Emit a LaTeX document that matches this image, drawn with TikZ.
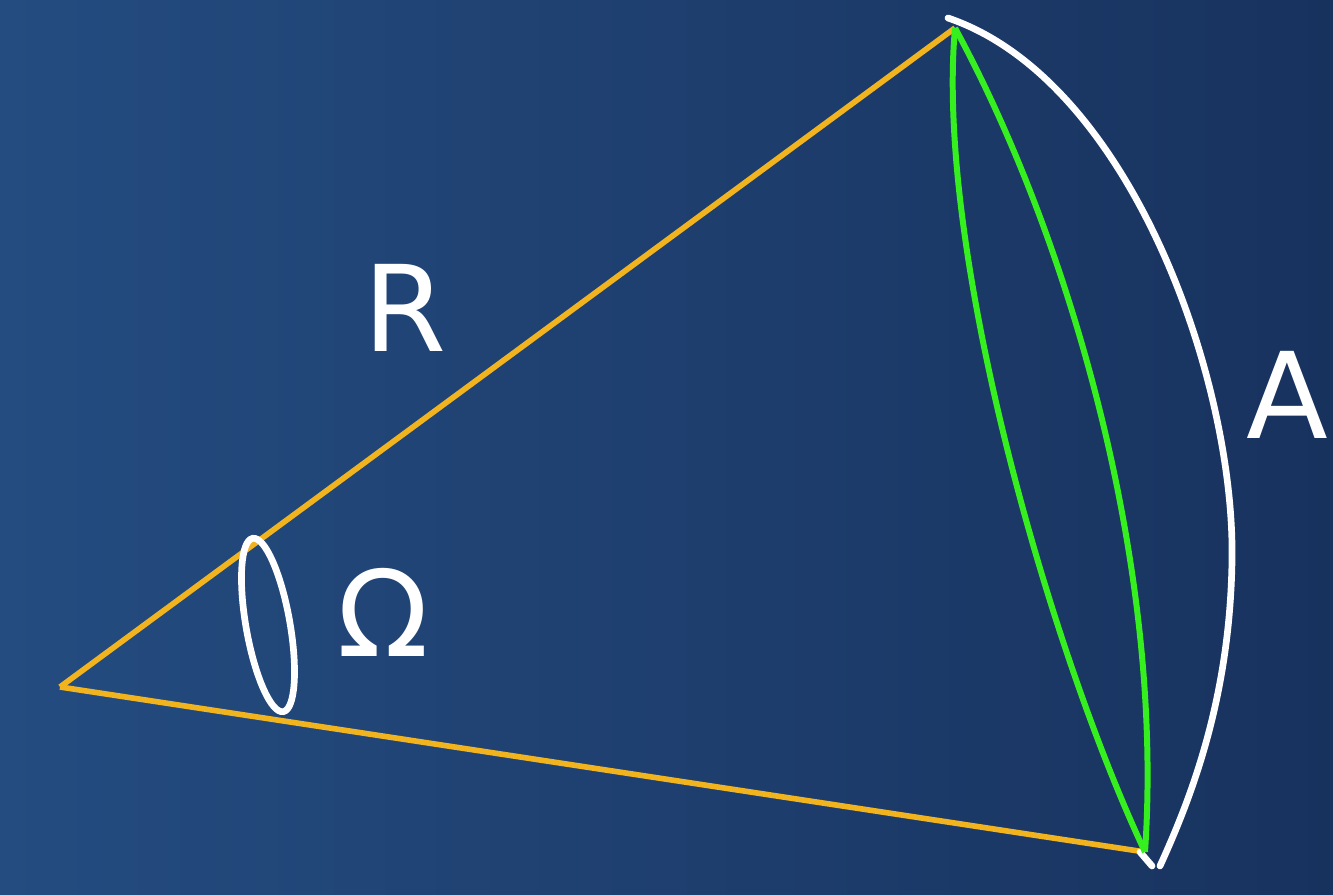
\documentclass[tikz,border=0pt]{standalone}
\usepackage{fontspec}
\setmainfont{DejaVu Sans}
\usetikzlibrary{positioning,calc,backgrounds}
\definecolor{lightBlue}{HTML}{244C80}
\definecolor{darkBlue}{HTML}{18325E}
\definecolor{coneEdge}{HTML}{F2B41E}
\definecolor{lensLine}{HTML}{35F01E}
\definecolor{chalk}{HTML}{FFFFFF}

\begin{document}
\begin{tikzpicture}[
  x=0.01cm, y=-0.01cm,
  radius/.style={line width=1.6pt, draw=coneEdge},
  capArc/.style={line width=1.9pt, draw=chalk, line cap=round},
  lens/.style={line width=1.7pt, draw=lensLine},
  handLabel/.style={text=chalk, font=\fontsize{34}{34}\selectfont}
]

% Background, 1333 x 895
\fill[left color=lightBlue, right color=darkBlue] (0,0) rectangle (1333,895);
\useasboundingbox (0,0) rectangle (1333,895);

% Corner points of the cone
\coordinate (O) at (60,687);
\coordinate (T) at (955,28);
\coordinate (B) at (1145,852);

% Two radii
\draw[radius] (O) -- (T);
\draw[radius] (O) -- (B);

% Cap of the cone
\draw[capArc] (948,18) .. controls (1130,80) and (1235,380) .. (1232,560)
  .. controls (1230,700) and (1190,800) .. (1160,866);
\draw[capArc] (1140,852) -- (1152,866);

% Lens between the two end points
\draw[lens] (T) .. controls (935,250) and (1050,650) .. (B);
\draw[lens] (T) .. controls (1065,230) and (1165,560) .. (B);

% Angle mark
\draw[capArc] (268,625) ellipse[x radius=22, y radius=88, rotate=10];

% Labels
\node[handLabel] (lblR) at (405,308) {R};
\node[handLabel] (lblA) at (1287,395) {A};
\node[handLabel] (lblOmega) at (383,612) {Ω};

\end{tikzpicture}
\end{document}
